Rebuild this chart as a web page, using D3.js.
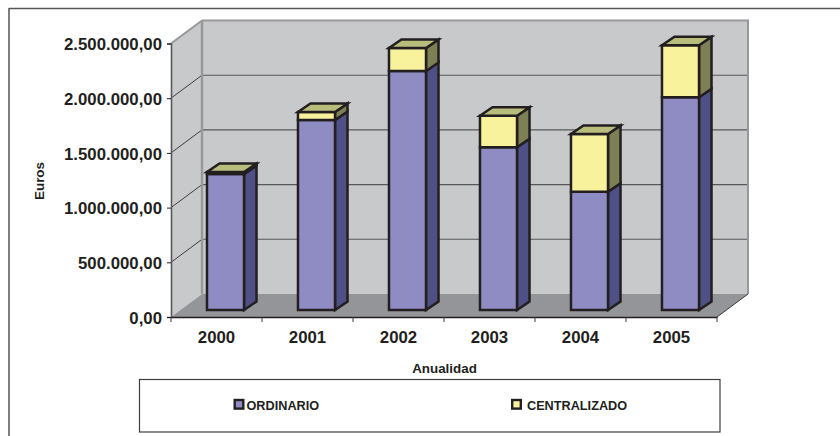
<!DOCTYPE html>
<html>
<head>
<meta charset="utf-8">
<script src="https://cdnjs.cloudflare.com/ajax/libs/d3/7.8.5/d3.min.js"></script>
<style>
html,body{margin:0;padding:0;background:#fff;}
svg{display:block;}
text{font-family:"Liberation Sans",Arial,sans-serif;font-weight:bold;fill:#231f20;}
</style>
</head>
<body>
<svg id="c" width="840" height="436"></svg>
<script>
const years = ["2000","2001","2002","2003","2004","2005"];
const ordinario = [1243000,1737000,2185000,1487000,1081000,1944000];
const centralizado = [18000,73000,210000,289000,528000,476000];
const yTicks = [0,500000,1000000,1500000,2000000,2500000];
const seriesNames = ["ORDINARIO","CENTRALIZADO"];

const svg = d3.select("#c");
const L=171,R=717,B=317,T=43.5;      // front plane of the 3D box
const DX=31,DY=-23;                  // box depth
const BX=9,BY=-7;                    // bar front offset
const DBX=12.5,DBY=-8.5;             // bar depth
const ink="#231f20";

const x=d3.scaleBand().domain(years).range([L,R]).paddingInner(0.593).paddingOuter(0.2965);
const y=d3.scaleLinear().domain([0,2500000]).range([B,T]);
const fmt=v=>{
  const s=Math.round(v).toString().replace(/\B(?=(\d{3})+$)/g,".");
  return s+",00";
};
const poly=(pts,fill,stroke,w)=>svg.append("polygon")
  .attr("points",pts.map(p=>p.join(",")).join(" "))
  .attr("fill",fill).attr("stroke",stroke||"none").attr("stroke-width",w||0).attr("stroke-linejoin","miter");
const line=(a,b,c,w)=>svg.append("line").attr("x1",a[0]).attr("y1",a[1]).attr("x2",b[0]).attr("y2",b[1]).attr("stroke",c).attr("stroke-width",w);

// outer frame (only top and left visible)
line([9,8.5],[840,8.5],"#555557",1.5);
line([9,8],[9,436],"#555557",1.5);

// walls & floor
poly([[L+DX,y(2500000)+DY],[R+DX,y(2500000)+DY],[R+DX,B+DY],[L+DX,B+DY]],"#c8c9cb");
poly([[L,y(2500000)],[L+DX,y(2500000)+DY],[L+DX,B+DY],[L,B]],"#c8c9cb");
poly([[L,B],[L+DX,B+DY],[R+DX,B+DY],[R,B]],"#949598");

// gridlines
yTicks.filter(v=>v>0&&v<2500000).forEach(v=>{
  line([L,y(v)],[L+DX,y(v)+DY],"#2f2d2e",0.9);
  line([L+DX,y(v)+DY],[R+DX,y(v)+DY],"#58585a",1.1);
});
// wall edges
line([L,y(2500000)],[L+DX,y(2500000)+DY],"#97989b",2);
line([L+DX,y(2500000)+DY],[R+DX+1,y(2500000)+DY],"#97989b",2);
line([L+DX,y(2500000)+DY],[L+DX,B+DY],"#97989b",2.4);
line([R+DX,y(2500000)+DY],[R+DX,B+DY],"#97989b",2);
line([R,B],[R+DX,B+DY],"#3a3a3c",1);

// bars
const barW=x.bandwidth();
years.forEach((yr,i)=>{
  const x0=x(yr)+BX, x1=x0+barW;
  const stack=[
    {a:0,b:ordinario[i],front:"#8e8cc3",side:"#4f5186",top:"#4f5186"},
    {a:ordinario[i],b:ordinario[i]+centralizado[i],front:"#f7f29b",side:"#7d7f55",top:"#b9bd7c"}
  ];
  const st=2.5;
  stack.forEach((s,k)=>{
    const ya=y(s.a)+BY,yb=y(s.b)+BY;
    poly([[x1,ya],[x1+DBX,ya+DBY],[x1+DBX,yb+DBY],[x1,yb]],s.side,ink,st);
    poly([[x0,ya],[x1,ya],[x1,yb],[x0,yb]],s.front,ink,st);
    if(k===1) poly([[x0,yb],[x0+DBX,yb+DBY],[x1+DBX,yb+DBY],[x1,yb]],s.top,ink,st);
  });
});

// axes
const gy=svg.append("g").attr("transform",`translate(${L},0)`)
  .call(d3.axisLeft(y).tickValues(yTicks).tickFormat(fmt).tickSize(4).tickPadding(5));
gy.select(".domain").attr("stroke","#58585a").attr("stroke-width",1.6);
gy.selectAll(".tick line").attr("stroke",ink).attr("stroke-width",1);
gy.selectAll("text").attr("y",0.8).style("font-size","16.8px").style("font-family",'"Liberation Sans",Arial,sans-serif').style("font-weight","bold").attr("fill",ink);

const gx=svg.append("g").attr("transform",`translate(0,${B})`)
  .call(d3.axisBottom(x).tickSize(0).tickPadding(14.5));
gx.select(".domain").attr("stroke",ink).attr("stroke-width",1.4);
gx.selectAll("text").style("font-size","16.8px").style("font-family",'"Liberation Sans",Arial,sans-serif').style("font-weight","bold").attr("fill",ink);
d3.range(0,years.length+1).forEach(i=>{
  const tx=L+x.step()*i;
  line([tx,B],[tx,B+5],"#3a3a3c",1);
});

// axis titles
svg.append("text").attr("x",444.5).attr("y",373).attr("text-anchor","middle").style("font-size","13.4px").text("Anualidad");
svg.append("text").attr("transform","translate(43.5,181) rotate(-90)").attr("text-anchor","middle").style("font-size","13.4px").text("Euros");

// legend
svg.append("rect").attr("x",139.5).attr("y",379.5).attr("width",580.5).attr("height",52.5).attr("fill","#fff").attr("stroke","#3f3f41").attr("stroke-width",1.2);
const legendFront=["#8e8cc3","#f7f29b"];
const legendX=[234.7,512.2];
const legendTextX=[246.5,527];
seriesNames.forEach((n,i)=>{
  svg.append("rect").attr("x",legendX[i]).attr("y",400).attr("width",8.6).attr("height",8.6).attr("fill",legendFront[i]).attr("stroke",ink).attr("stroke-width",2.4);
  svg.append("text").attr("x",legendTextX[i]).attr("y",410).style("font-size","12.7px").text(n);
});
</script>
</body>
</html>
